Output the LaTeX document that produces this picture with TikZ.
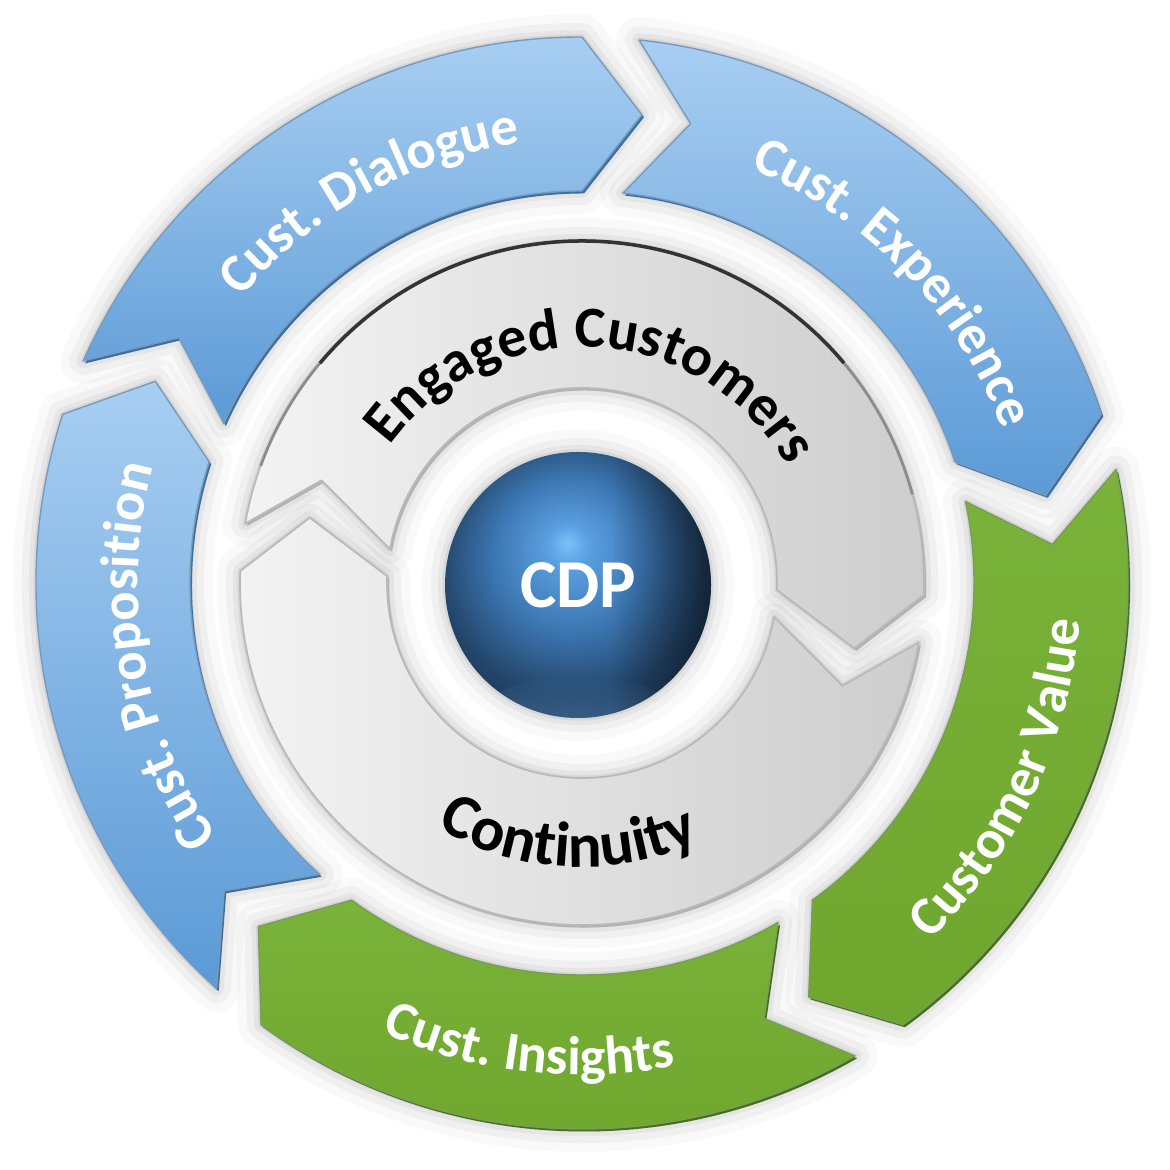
\documentclass[tikz,border=0pt]{standalone}
\usepackage{fontspec}
\setmainfont{Carlito}
\usetikzlibrary{decorations.text,fadings}
\definecolor{bluetop}{HTML}{A8CEF2}
\definecolor{bluebot}{HTML}{5B9AD6}
\definecolor{blueedge}{HTML}{3E6F9F}
\definecolor{greentop}{HTML}{7AB339}
\definecolor{greenbot}{HTML}{6FA62E}
\definecolor{greenedge}{HTML}{44701A}
\definecolor{greyL}{HTML}{F3F3F3}
\definecolor{greyR}{HTML}{CDCDCD}
\definecolor{sphhl}{HTML}{7CC2F8}
\definecolor{sphA}{HTML}{5A9FE0}
\definecolor{sphB}{HTML}{3D78B4}
\definecolor{sphC}{HTML}{23456A}
\definecolor{sphD}{HTML}{1A3350}
\definecolor{sphrefl}{HTML}{6FA9DD}
\pgfdeclareradialshading{cdpsph}{\pgfpoint{-2bp}{8bp}}{color(0bp)=(sphhl); color(4bp)=(sphA); color(14bp)=(sphB); color(25bp)=(sphC); color(32bp)=(sphD); color(50bp)=(sphD)}
% segment path: start angle, end angle, inner r, outer r, chevron depth, chevron radius
\newcommand\segp[6]{(#1:#4) arc[start angle=#1, end angle=#2, radius=#4] -- ({#2-#5}:#6) -- (#2:#3) arc[start angle=#2, end angle=#1, radius=#3] -- ({#1-#5}:#6) -- cycle}
\newcommand\glowp[1]{%
  \draw[line width=13pt, black, opacity=0.025, line join=round] #1;
  \draw[line width=8pt, black, opacity=0.035, line join=round] #1;
  \draw[line width=4pt, black, opacity=0.045, line join=round] #1;
  \draw[line width=1.5pt, black, opacity=0.06, line join=round] #1;}
\newcommand\olbl{\fontsize{15.5}{18}\selectfont\bfseries}
\newcommand\ilbl{\fontsize{16.5}{19}\selectfont\bfseries}
\newcommand\clbl{\fontsize{18}{21}\selectfont\bfseries}
\tikzset{
  bluefill/.style={top color=bluetop, bottom color=bluebot, draw=blueedge!70, line width=0.4pt, line join=round},
  greenfill/.style={top color=greentop, bottom color=greenbot, draw=greenedge!70, line width=0.4pt, line join=round},
  greyfill/.style={left color=greyL, right color=greyR, draw=gray!55, line width=0.5pt, line join=round},
  oshadow/.style={shift={(0.02,-0.025)}},
  lbl/.style={decorate, decoration={text along path, text align=center, text color=white, text={#1}}},
  dlbl/.style={decorate, decoration={text along path, text align=center, text color=black, text={#1}}}
}
\begin{document}
\begin{tikzpicture}
\fill[white] (0,0) rectangle (11.7,11.7);
\useasboundingbox (0,0) rectangle (11.7,11.7);
\begin{scope}[shift={(5.82,5.87)}]
% glows
\glowp{\segp{156}{90}{3.92}{5.46}{7.3}{4.72}}
\glowp{\segp{84}{18}{3.92}{5.46}{7.3}{4.72}}
\glowp{\segp{12}{-54}{3.92}{5.46}{7.3}{4.72}}
\glowp{\segp{-60}{-126}{3.92}{5.46}{7.3}{4.72}}
\glowp{\segp{-132}{-198}{3.92}{5.46}{7.3}{4.72}}
\glowp{\segp{170}{-2}{1.95}{3.42}{11.5}{2.80}}
\glowp{\segp{350}{178}{1.95}{3.42}{11.5}{2.80}}
\glowp{(-0.04,-0.02) circle[radius=1.33]}
% bevel shadows
\fill[blueedge, oshadow] \segp{156}{90}{3.92}{5.46}{7.3}{4.72};
\fill[blueedge, oshadow] \segp{84}{18}{3.92}{5.46}{7.3}{4.72};
\fill[greenedge, oshadow] \segp{12}{-54}{3.92}{5.46}{7.3}{4.72};
\fill[greenedge, oshadow] \segp{-60}{-126}{3.92}{5.46}{7.3}{4.72};
\fill[blueedge, oshadow] \segp{-132}{-198}{3.92}{5.46}{7.3}{4.72};
\fill[gray!60, oshadow] \segp{170}{-2}{1.95}{3.42}{11.5}{2.80};
\fill[gray!60, oshadow] \segp{350}{178}{1.95}{3.42}{11.5}{2.80};
% outer segments
\path[bluefill] \segp{156}{90}{3.92}{5.46}{7.3}{4.72};
\path[bluefill] \segp{84}{18}{3.92}{5.46}{7.3}{4.72};
\path[greenfill] \segp{12}{-54}{3.92}{5.46}{7.3}{4.72};
\path[greenfill] \segp{-60}{-126}{3.92}{5.46}{7.3}{4.72};
\path[bluefill] \segp{-132}{-198}{3.92}{5.46}{7.3}{4.72};
% inner grey segments
\path[greyfill] \segp{170}{-2}{1.95}{3.42}{11.5}{2.80};
\path[greyfill] \segp{350}{178}{1.95}{3.42}{11.5}{2.80};
\draw[black!45, line width=0.8pt] (160:3.42) arc[start angle=160, end angle=15, radius=3.42];
\draw[black!80, line width=1pt] (140:3.42) arc[start angle=140, end angle=40, radius=3.42];
% sphere
\shade[shading=cdpsph] (-0.04,-0.02) circle[radius=1.33];
\begin{scope}
  \clip (-0.04,-0.02) circle[radius=1.33];
  \fill[sphrefl, opacity=0.6, path fading=north] (-0.04,-1.35) ellipse[x radius=1.0, y radius=0.42];
  \fill[black, opacity=0.45, path fading=west] (0.3,-1.4) rectangle (1.3,1.3);
\end{scope}
\node[text=white, font=\fontsize{19.5}{22}\selectfont\bfseries] (cdp) at (-0.04,-0.02) {CDP};
% labels
\path[lbl={|\olbl|Cust. Dialogue}] (164:4.44) arc[start angle=164, end angle=74, radius=4.44];
\path[lbl={|\olbl|Cust. Experience}] (89:4.47) arc[start angle=89, end angle=-1, radius=4.47];
\path[lbl={|\olbl|Customer Value}] (-70:4.99) arc[start angle=-70, end angle=20, radius=4.99];
\path[lbl={|\olbl|Cust. Insights}] (-141.5:4.92) arc[start angle=-141.5, end angle=-51.5, radius=4.92];
\path[lbl={|\olbl|Cust. Proposition}] (234.8:4.44) arc[start angle=234.8, end angle=144.8, radius=4.44];
\path[dlbl={|\ilbl|Engaged Customers}] (177:2.36) arc[start angle=177, end angle=-3, radius=2.36];
\path[dlbl={|\clbl|Continuity}] (-163:2.84) arc[start angle=-163, end angle=-23, radius=2.84];
\end{scope}
\end{tikzpicture}
\end{document}
